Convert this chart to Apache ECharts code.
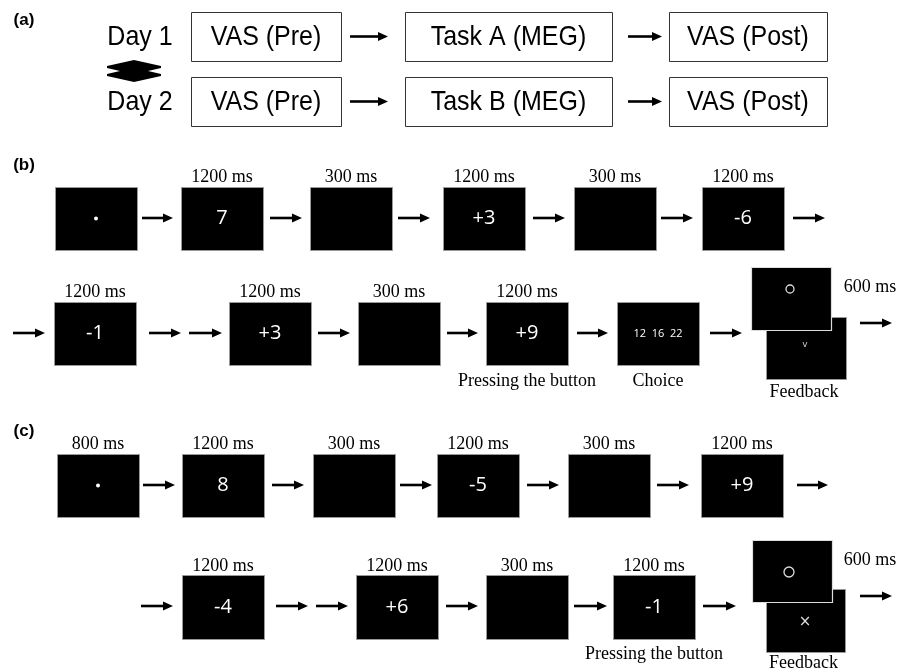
<!DOCTYPE html>
<html>
<head>
<meta charset="utf-8">
<script src="https://cdn.jsdelivr.net/npm/echarts@6/dist/echarts.min.js"></script>
<style>
  html, body { margin: 0; padding: 0; background: #fff; }
  #main { width: 898px; height: 671px; }
</style>
</head>
<body>
<div id="main"></div>
<script>
  // content of the figure
  const panelLetters = ['(a)', '(b)', '(c)'];
  const dayLabels = ['Day 1', 'Day 2'];
  const dayTasks = [
    ['VAS (Pre)', 'Task A (MEG)', 'VAS (Post)'],
    ['VAS (Pre)', 'Task B (MEG)', 'VAS (Post)']
  ];
  const stimB1 = ['•', '7', '', '+3', '', '-6'];
  const timeB1 = ['', '1200 ms', '300 ms', '1200 ms', '300 ms', '1200 ms'];
  const stimB2 = ['-1', '+3', '', '+9', '12  16  22'];
  const timeB2 = ['1200 ms', '1200 ms', '300 ms', '1200 ms', ''];
  const captionB2 = ['', '', '', 'Pressing the button', 'Choice'];
  const stimC1 = ['•', '8', '', '-5', '', '+9'];
  const timeC1 = ['800 ms', '1200 ms', '300 ms', '1200 ms', '300 ms', '1200 ms'];
  const stimC2 = ['-4', '+6', '', '-1'];
  const timeC2 = ['1200 ms', '1200 ms', '300 ms', '1200 ms'];
  const captionC2 = ['', '', '', 'Pressing the button'];
  const feedbackMarks = [['○', 'v'], ['○', '×']];
  const feedbackCaption = 'Feedback';
  const feedbackTime = '600 ms';

  // layout (pixel units of the hidden axes)
  const letterPos = [[24, 20], [24, 165], [24, 431]];
  const layA = { dayX: 140, boxX: [[191, 341], [405, 612], [669, 827]], rowY: [[12, 61], [77, 126]], arrows: [[350, 388], [628, 662]] };
  const layB1 = { left: [55, 181, 310, 443, 574, 702], top: 187, bottom: 250, timeY: 177, stimY: 218,
    arrows: [[142, 173], [270, 302], [398, 430], [533, 565], [661, 693], [793, 825]], arrowY: 218 };
  const layB2 = { left: [54, 229, 358, 486, 617], top: 302, bottom: 365, timeY: 292, stimY: 334, capY: 381,
    arrows: [[13, 45], [149, 181], [189, 222], [318, 350], [447, 478], [577, 608], [710, 742]], arrowY: 333 };
  const layC1 = { left: [57, 182, 313, 437, 568, 701], top: 454, bottom: 517, timeY: 444, stimY: 486,
    arrows: [[143, 175], [272, 304], [400, 432], [527, 559], [657, 689], [797, 828]], arrowY: 485 };
  const layC2 = { left: [182, 356, 486, 613], top: 575, bottom: 639, timeY: 566, stimY: 607, capY: 654,
    arrows: [[141, 173], [276, 308], [316, 348], [446, 478], [574, 607], [703, 736]], arrowY: 606 };
  const layFb = [
    { top: [751, 267, 831, 330], bot: [766, 317, 846, 379], mark1: [790, 289, 4], mark2: [805, 345], capY: 392, timeXY: [870, 287], arrow: [860, 892, 323] },
    { top: [752, 540, 832, 602], bot: [766, 589, 845, 652], mark1: [789, 572, 5], mark2: [805, 622], capY: 663, timeXY: [870, 560], arrow: [860, 892, 596] }
  ];
  const boxW = 82;

  const boxStyles = [
    { fill: '#fff', stroke: '#333', lineWidth: 1 },
    { fill: '#000', stroke: '#999', lineWidth: 1 },
    { fill: '#000', stroke: '#ddd', lineWidth: 1.2 }
  ];
  const textStyles = {
    letter: { font: 'bold 17px "Liberation Sans", Arial, sans-serif', fill: '#000' },
    day: { font: '25px "Liberation Sans", Arial, sans-serif', fill: '#000', scaleY: 1.12 },
    time: { font: '18px "Liberation Serif", "Times New Roman", serif', fill: '#000' },
    stim: { font: '20px "Open Sans", "Noto Sans", sans-serif', fill: '#fff' },
    small: { font: '11px "Open Sans", "Noto Sans", sans-serif', fill: '#fff' },
    markX: { font: '15px "DejaVu Sans", sans-serif', fill: '#ddd' },
    markV: { font: '9px "DejaVu Sans", sans-serif', fill: '#ccc' }
  };

  const boxData = [];
  const arrowData = [];
  const textData = [];
  const textItems = [];
  const dotData = [];

  function addText(x, y, text, kind) {
    if (!text) return;
    textData.push([x, y]);
    textItems.push({ text: text, kind: kind });
  }

  panelLetters.forEach((t, i) => addText(letterPos[i][0], letterPos[i][1], t, 'letter'));

  // panel (a)
  dayLabels.forEach((d, r) => {
    const [y0, y1] = layA.rowY[r];
    addText(layA.dayX, (y0 + y1) / 2 + 1, d, 'day');
    dayTasks[r].forEach((t, i) => {
      const [x0, x1] = layA.boxX[i];
      boxData.push([x0, y0, x1, y1, 0]);
      addText((x0 + x1) / 2, (y0 + y1) / 2 + 1, t, 'day');
    });
    layA.arrows.forEach(a => arrowData.push([a[0], a[1], (y0 + y1) / 2]));
  });

  function addRow(lay, stim, time, caption) {
    lay.left.forEach((x0, i) => {
      const cx = x0 + boxW / 2;
      boxData.push([x0, lay.top, x0 + boxW, lay.bottom, 1]);
      addText(cx, lay.timeY, time[i], 'time');
      const cy = (lay.top + lay.bottom) / 2;
      if (stim[i] === '•') {
        dotData.push([cx, cy, 2, 1]);
      } else {
        addText(cx, cy, stim[i], stim[i].length > 3 ? 'small' : 'stim');
      }
      if (caption) addText(cx, lay.capY, caption[i], 'time');
    });
    lay.arrows.forEach(a => arrowData.push([a[0], a[1], lay.arrowY]));
  }
  addRow(layB1, stimB1, timeB1);
  addRow(layB2, stimB2, timeB2, captionB2);
  addRow(layC1, stimC1, timeC1);
  addRow(layC2, stimC2, timeC2, captionC2);

  layFb.forEach((f, i) => {
    boxData.push(f.bot.concat([1]));
    boxData.push(f.top.concat([2]));
    dotData.push([f.mark1[0], f.mark1[1], f.mark1[2], 0]);
    addText(f.mark2[0], f.mark2[1], feedbackMarks[i][1], i === 0 ? 'markV' : 'markX');
    addText((f.bot[0] + f.bot[2]) / 2 - 2, f.capY, feedbackCaption, 'time');
    addText(f.timeXY[0], f.timeXY[1], feedbackTime, 'time');
    arrowData.push(f.arrow);
  });

  const doubleArrow = [[134, 60], [134, 82]];

  const chart = echarts.init(document.getElementById('main'));
  chart.setOption({
    animation: false,
    grid: { left: 0, right: 0, top: 0, bottom: 0 },
    xAxis: { type: 'value', min: 0, max: 898, show: false },
    yAxis: { type: 'value', min: 0, max: 671, inverse: true, show: false },
    series: [
      {
        type: 'custom',
        name: 'boxes',
        silent: true,
        z: 1,
        data: boxData,
        renderItem: (params, api) => {
          const p0 = api.coord([api.value(0), api.value(1)]);
          const p1 = api.coord([api.value(2), api.value(3)]);
          return {
            type: 'rect',
            shape: { x: Math.round(p0[0]) + 0.5, y: Math.round(p0[1]) + 0.5, width: Math.round(p1[0] - p0[0]), height: Math.round(p1[1] - p0[1]) },
            style: boxStyles[api.value(4)]
          };
        }
      },
      {
        type: 'custom',
        name: 'arrows',
        silent: true,
        z: 2,
        data: arrowData,
        renderItem: (params, api) => {
          const a = api.coord([api.value(0), api.value(2)]);
          const b = api.coord([api.value(1), api.value(2)]);
          return {
            type: 'group',
            children: [
              { type: 'line', shape: { x1: a[0], y1: a[1], x2: b[0] - 7, y2: b[1] }, style: { stroke: '#000', lineWidth: 2.6 } },
              { type: 'polygon', shape: { points: [[b[0], b[1]], [b[0] - 10, b[1] - 4.5], [b[0] - 10, b[1] + 4.5]] }, style: { fill: '#000' } }
            ]
          };
        }
      },
      {
        type: 'custom',
        name: 'doubleArrow',
        silent: true,
        z: 2,
        data: doubleArrow,
        renderItem: (params, api) => {
          if (params.dataIndex !== 0) return null;
          const top = api.coord(doubleArrow[0]);
          const bot = api.coord(doubleArrow[1]);
          const cx = top[0], t = top[1], b = bot[1];
          const m = (t + b) / 2;
          const hw = 27, sw = 14;
          return {
            type: 'polygon',
            shape: { points: [
              [cx, t], [cx + hw, m - 5], [cx + hw, m - 3], [cx + sw, m], [cx + hw, m + 3], [cx + hw, m + 5],
              [cx, b], [cx - hw, m + 5], [cx - hw, m + 3], [cx - sw, m], [cx - hw, m - 3], [cx - hw, m - 5]
            ] },
            style: { fill: '#000' }
          };
        }
      },
      {
        type: 'custom',
        name: 'dots',
        silent: true,
        z: 3,
        data: dotData,
        renderItem: (params, api) => {
          const p = api.coord([api.value(0), api.value(1)]);
          const filled = api.value(3) === 1;
          return {
            type: 'circle',
            shape: { cx: p[0], cy: p[1], r: api.value(2) },
            style: filled ? { fill: '#fff' } : { fill: 'none', stroke: '#ddd', lineWidth: 1.3 }
          };
        }
      },
      {
        type: 'custom',
        name: 'texts',
        silent: true,
        z: 4,
        data: textData,
        renderItem: (params, api) => {
          const p = api.coord([api.value(0), api.value(1)]);
          const item = textItems[params.dataIndex];
          const s = textStyles[item.kind];
          return {
            type: 'text',
            x: p[0],
            y: p[1],
            scaleY: s.scaleY || 1,
            style: {
              text: item.text,
              font: s.font,
              fill: s.fill,
              align: 'center',
              verticalAlign: 'middle'
            }
          };
        }
      }
    ]
  });
</script>
</body>
</html>
